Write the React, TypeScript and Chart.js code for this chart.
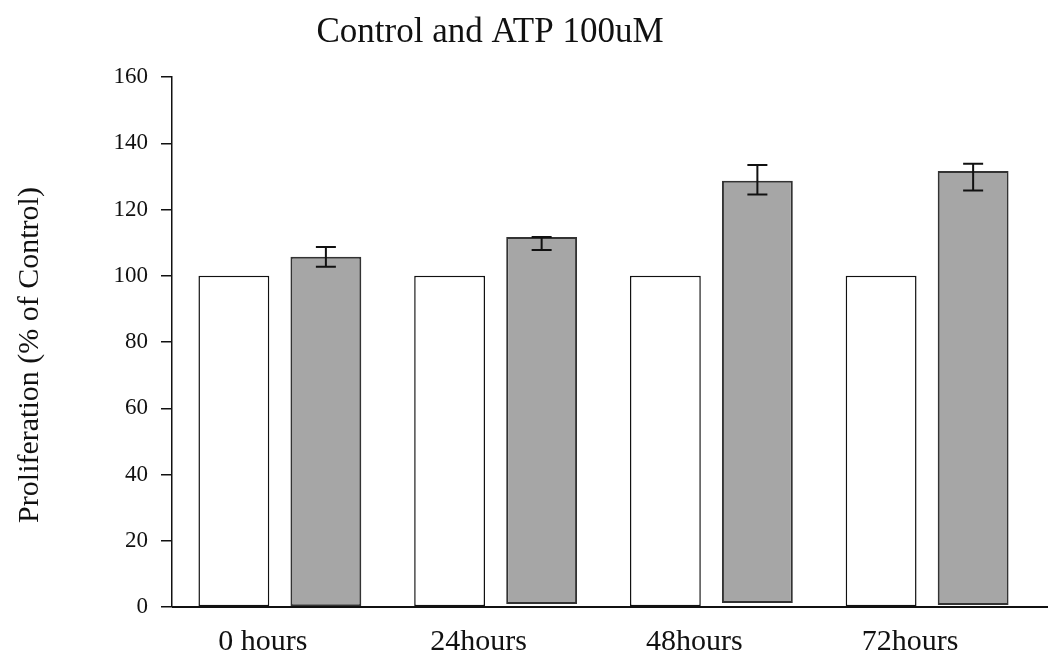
import React, { useEffect, useRef } from "react";
import { Chart, registerables } from "chart.js";

Chart.register(...registerables);

const categories = ["0 hours", "24hours", "48hours", "72hours"];
const controlValues = [100, 100, 100, 100];
const atpBase = [0, 0.9, 1.2, 0.6];
const atpValues = [105.7, 111.7, 128.7, 131.6];
const atpErrPlus = [3.0, 0, 4.7, 2.2];
const atpErrMinus = [3.0, 3.9, 4.2, 5.9];
const yTicks = [0, 20, 40, 60, 80, 100, 120, 140, 160];
const titleText = "Control and ATP 100uM";
const yTitle = "Proliferation (% of Control)";

const FONT = "'Liberation Serif', 'Times New Roman', serif";

const errorBarPlugin = {
  id: "errorBars",
  afterDatasetsDraw(chart: any) {
    const meta = chart.getDatasetMeta(1);
    const y = chart.scales.y;
    const ctx = chart.ctx;
    ctx.save();
    ctx.strokeStyle = "#111";
    ctx.lineWidth = 2;
    meta.data.forEach((bar: any, i: number) => {
      const x = bar.x;
      const top = y.getPixelForValue(atpValues[i] + atpErrPlus[i]);
      const bot = y.getPixelForValue(atpValues[i] - atpErrMinus[i]);
      const cap = 10;
      ctx.beginPath();
      ctx.moveTo(x, top);
      ctx.lineTo(x, bot);
      ctx.moveTo(x - cap, top);
      ctx.lineTo(x + cap, top);
      ctx.moveTo(x - cap, bot);
      ctx.lineTo(x + cap, bot);
      ctx.stroke();
    });
    ctx.restore();
  },
};

const textPlugin = {
  id: "customText",
  afterDraw(chart: any) {
    const ctx = chart.ctx;
    const area = chart.chartArea;
    ctx.save();
    // x baseline extended to the canvas edge
    ctx.strokeStyle = "#111";
    ctx.lineWidth = 2;
    ctx.beginPath();
    ctx.moveTo(area.left, area.bottom);
    ctx.lineTo(chart.width, area.bottom);
    ctx.stroke();
    ctx.fillStyle = "#111";
    ctx.font = `35px ${FONT}`;
    ctx.textAlign = "center";
    ctx.textBaseline = "middle";
    ctx.fillText(titleText, 490, 33);
    ctx.translate(30, 355);
    ctx.rotate(-Math.PI / 2);
    ctx.font = `30px ${FONT}`;
    ctx.fillText(yTitle, 0, 0);
    ctx.restore();
  },
};

export default function App() {
  const ref = useRef<HTMLCanvasElement | null>(null);
  useEffect(() => {
    document.body.style.margin = "0";
    if (!ref.current) return;
    const chart = new Chart(ref.current, {
      type: "bar",
      data: {
        labels: categories,
        datasets: [
          {
            label: "Control",
            data: controlValues,
            backgroundColor: "#ffffff",
            borderColor: "#111",
            borderWidth: 1.5,
            borderSkipped: false,
            categoryPercentage: 0.853,
            barPercentage: 0.77,
          },
          {
            label: "ATP 100uM",
            data: atpValues.map((v, i) => [atpBase[i], v]),
            backgroundColor: "#a6a6a6",
            borderColor: "#333",
            borderWidth: 2,
            borderSkipped: false,
            categoryPercentage: 0.853,
            barPercentage: 0.77,
          },
        ],
      },
      options: {
        animation: false,
        responsive: false,
        layout: { padding: { top: 77, left: 0, right: 13, bottom: 0 } },
        plugins: {
          legend: { display: false },
          tooltip: { enabled: false },
          title: { display: false },
        },
        scales: {
          x: {
            grid: { display: false, drawTicks: false },
            border: { display: false },
            ticks: {
              color: "#111",
              font: { family: FONT, size: 30 },
              padding: 17,
              labelOffset: -17,
            },
            afterFit(scale: any) {
              scale.height = 55;
            },
          },
          y: {
            min: 0,
            max: 160,
            afterBuildTicks(scale: any) {
              scale.ticks = yTicks.map((v) => ({ value: v }));
            },
            grid: {
              display: true,
              drawOnChartArea: false,
              drawTicks: true,
              tickLength: 11,
              color: "#111",
              lineWidth: 1.5,
            },
            border: { display: true, color: "#111", width: 1.5 },
            ticks: {
              color: "#111",
              font: { family: FONT, size: 23 },
              padding: 13,
            },
            afterFit(scale: any) {
              scale.width = 172;
            },
          },
        },
      },
      plugins: [errorBarPlugin, textPlugin],
    } as any);
    return () => chart.destroy();
  }, []);
  return <canvas ref={ref} width={1048} height={662} style={{ display: "block" }} />;
}
